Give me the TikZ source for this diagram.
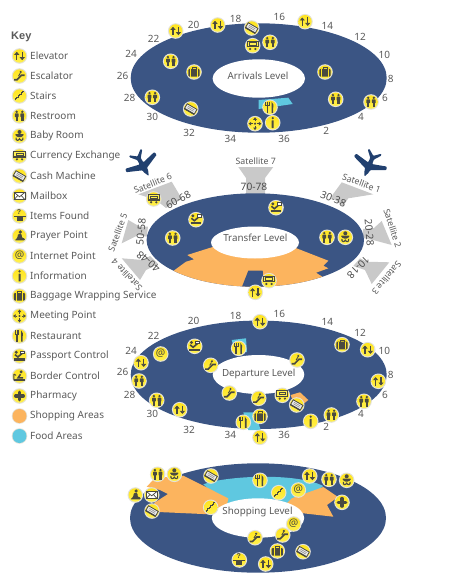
\documentclass[tikz,border=0pt]{standalone}
\usepackage{fontspec}
\setmainfont{Noto Sans}
\newfontfamily\keyfont{Liberation Sans}
\usetikzlibrary{arrows.meta,shapes.geometric}
\definecolor{ringblue}{HTML}{3B5584}
\definecolor{planeblue}{HTML}{21406F}
\definecolor{wedgegray}{HTML}{C9C9C9}
\definecolor{labelgray}{HTML}{5A5A5A}
\definecolor{shopcolor}{HTML}{FCB45E}
\definecolor{foodcolor}{HTML}{5FC8E0}
\definecolor{coinring}{HTML}{E4E2D8}
\definecolor{coinface}{HTML}{FFE41E}
\definecolor{coinglare}{HTML}{FFF04E}
\definecolor{coinink}{HTML}{4A4A40}

\begin{document}
\begin{tikzpicture}[
  x=1pt, y=-1pt,
  font=\fontsize{10}{11}\selectfont,
  keylabel/.style = {anchor=west, text=labelgray, inner sep=0pt},
  gatenum/.style  = {text=labelgray, inner sep=0pt},
  satname/.style  = {text=labelgray, inner sep=0pt, font=\fontsize{8.8}{10}\selectfont},
  satgates/.style = {text=labelgray!85!black, inner sep=0pt, font=\fontsize{10.2}{11}\selectfont},
  hub/.style      = {ellipse, fill=white, inner sep=0pt},
  levelname/.style= {text=labelgray, inner sep=0pt, font=\fontsize{9.8}{11}\selectfont},
  wedge/.style    = {fill=wedgegray},
  ink/.style      = {fill=coinink, draw=none},
  inkline/.style  = {draw=coinink, line width=1.1pt},
  liftarrow/.style= {inkline, line width=1.3pt, -{Triangle[length=3pt,width=5pt]}},
  coin/.pic = {
    \fill[coinring] (0,0) circle (7.8);
    \shade[top color=coinface, bottom color=coinglare] (0,0) circle (6.7);
  },
  elevator/.pic = {
    \pic {coin};
    \draw[liftarrow] (-2.7,4.2) -- (-2.7,-4.2);
    \draw[liftarrow] (2.7,-4.2) -- (2.7,4.2);
  },
  escalator/.pic = {
    \pic {coin};
    \draw[inkline, line width=1.7pt] (-5.5,3.8) -- (-2.5,3.8) -- (2,-0.8) -- (5.2,-0.8);
    \fill[ink] (1.2,-4) circle (1.2);
    \draw[inkline, line width=0.9pt] (0.8,-2.8) -- (-1,0.2);
  },
  stairs/.pic = {
    \pic {coin};
    \draw[inkline, line width=1pt] (-4.5,4.5) -- (-4.5,3) -- (-3,3) -- (-3,1.5) -- (-1.5,1.5) -- (-1.5,0)
      -- (0,0) -- (0,-1.5) -- (1.5,-1.5) -- (1.5,-3) -- (3,-3) -- (3,-4.5) -- (4.5,-4.5);
  },
  restroom/.pic = {
    \pic {coin};
    \foreach \sx in {-2.8,2.8} {
      \fill[ink] (\sx,-4.2) circle (1.3);
      \fill[ink, rounded corners=0.6] (\sx-1.9,-2.6) rectangle (\sx+1.9,1.2);
      \fill[ink] (\sx-1.2,1) rectangle (\sx+1.2,5.2);
    }
  },
  baby/.pic = {
    \pic {coin};
    \fill[ink] (0,-4) circle (2);
    \fill[ink, rounded corners=1] (-4.8,-1.8) -- (4.8,-1.8) -- (2.2,1.2) -- (-2.2,1.2) -- cycle;
    \draw[inkline] (-3.4,1.6) .. controls (-4,4.8) and (-1,5.2) .. (0,2.8)
      .. controls (1,5.2) and (4,4.8) .. (3.4,1.6);
  },
  currency/.pic = {
    \pic {coin};
    \draw[inkline, fill=coinglare] (-5.6,-4.6) rectangle (5.6,1);
    \draw[inkline, line width=0.6pt] (-3.4,-3) rectangle (3.4,-0.8);
    \fill[ink] (-2.6,3.3) circle (1.2);
    \fill[ink] (2.6,3.3) circle (1.2);
  },
  cash/.pic = {
    \pic {coin};
    \begin{scope}[rotate=-30]
      \draw[inkline, line width=0.8pt, fill=white!85!gray] (-5.6,-2.8) rectangle (5.6,2.8);
      \draw[inkline, line width=1.4pt] (-5.6,2.8) -- (5.6,2.8);
      \draw[gray, line width=0.5pt] (-3.6,-1) -- (3.6,-1) (-3.6,0.6) -- (3.6,0.6);
    \end{scope}
  },
  mailbox/.pic = {
    \pic {coin};
    \draw[inkline, line width=0.8pt, fill=white] (-5.6,-3.8) rectangle (5.6,3.8);
    \draw[inkline, line width=0.7pt] (-5.6,-3.8) -- (0,0.8) -- (5.6,-3.8)
      (-5.6,3.8) -- (-1.6,-0.6) (5.6,3.8) -- (1.6,-0.6);
  },
  found/.pic = {
    \pic {coin};
    \node[text=coinink, inner sep=0pt, font=\fontsize{7}{7}\keyfont\bfseries] (foundmark) at (-0.6,-3.6) {?};
    \fill[ink] (-6,-0.4) rectangle (6,1.3);
    \fill[ink] (-3,1.3) rectangle (3,5);
  },
  prayer/.pic = {
    \pic {coin};
    \fill[ink] (0.8,-4) circle (1.8);
    \fill[ink, rounded corners=1] (-1.4,-2.2) -- (2,-2.2) -- (2.6,2) -- (5.4,2.4) -- (5.4,4.4) -- (-5,4.4) -- (-2.2,2) -- cycle;
  },
  internet/.pic = {
    \pic {coin};
    \node[text=coinink, inner sep=0pt, font=\fontsize{10.5}{11}\selectfont] (atsign) at (0,-0.3) {@};
  },
  information/.pic = {
    \pic {coin};
    \fill[ink] (0,-4.6) circle (1.2);
    \fill[ink, rounded corners=0.4] (-1,-2.4) rectangle (1,5.4);
  },
  baggage/.pic = {
    \pic {coin};
    \draw[inkline, line width=0.8pt] (-2,-3) -- (-2,-4.8) -- (2,-4.8) -- (2,-3);
    \fill[ink, rounded corners=1] (-5.6,-3) rectangle (5.6,4.6);
    \draw[coinface, line width=0.7pt] (-3.3,-3) -- (-3.3,4.6) (3.3,-3) -- (3.3,4.6);
  },
  meeting/.pic = {
    \pic {coin};
    \fill[ink] (0,0) circle (1.2);
    \foreach \a in {0,90,180,270}
      \draw[inkline, line width=0.9pt, -{Triangle[length=2.6pt,width=3.6pt]}, rotate=\a] (2.2,0) -- (6.4,0);
  },
  restaurant/.pic = {
    \pic {coin};
    \draw[inkline, line width=0.7pt] (-4.4,-5.6) -- (-4.4,-1.6) -- (-0.8,-1.6) -- (-0.8,-5.6) (-2.6,-5.6) -- (-2.6,-1.6);
    \draw[inkline, line width=1.4pt] (-2.6,-1.6) -- (-2.6,5.6);
    \fill[ink] (1.6,-5.6) .. controls (3.8,-4.2) and (3.8,-1) .. (3.2,0.6) -- (3.2,5.6) -- (1.6,5.6) -- cycle;
  },
  passport/.pic = {
    \pic {coin};
    \fill[ink] (-3.2,-3.8) circle (1.6);
    \draw[inkline, line width=1.6pt] (-4.6,-1.4) -- (-1.6,1) -- (2.6,-2.6);
    \draw[inkline, line width=0.8pt, fill=white] (1,-5) rectangle (5,-2.6);
    \fill[ink] (-5.4,2.4) rectangle (5.4,4.6);
  },
  border/.pic = {
    \pic {coin};
    \fill[ink] (1.6,-4.2) circle (1.6);
    \draw[inkline, line width=1.6pt] (1,-1.8) -- (-1.4,1.8) -- (3.6,1.8);
    \draw[inkline, line width=0.9pt] (-5.6,-2) -- (-5.6,4.4) (-3.4,-0.6) -- (-5.6,-2);
    \fill[ink] (-5.6,3) rectangle (5.6,4.8);
  },
  pharmacy/.pic = {
    \pic {coin};
    \draw[inkline, line width=3.4pt, line cap=round] (-3.8,0) -- (3.8,0) (0,-3.8) -- (0,3.8);
  },
  plane/.pic = {
    \fill[planeblue, rounded corners=0.8] (11.5,0) -- (6,-2.4) -- (3.5,-2.6) -- (-3,-17.6) -- (-6.4,-16.6) -- (-3,-2.2) -- (-8,-2)
      -- (-14.4,-7.4) -- (-16,-6.4) -- (-11,0) -- (-16,6.4) -- (-14.4,7.4) -- (-8,2) -- (-3,2.2)
      -- (-6.4,16.6) -- (-3,17.6) -- (3.5,2.6) -- (6,2.4) -- cycle;
  },
]
\useasboundingbox (0,0) rectangle (476,583);

% ===== Key (left column) =====
\node[anchor=west, text=labelgray, inner sep=0pt, font=\fontsize{11}{12}\keyfont\bfseries] (keytitle) at (11,37) {Key};
\foreach \icon/\label [count=\i from 0] in {elevator/Elevator, escalator/Escalator, stairs/Stairs, restroom/Restroom,
    baby/Baby Room, currency/Currency Exchange, cash/Cash Machine, mailbox/Mailbox, found/Items Found,
    prayer/Prayer Point, internet/Internet Point, information/Information, baggage/Baggage Wrapping Service,
    meeting/Meeting Point, restaurant/Restaurant, passport/Passport Control, border/Border Control, pharmacy/Pharmacy} {
  \pic at (19.5,56+20*\i) {\icon};
  \node[keylabel] (key\i) at (30,56+20*\i) {\label};
}
\fill[coinring] (19.5,416) circle (7.8);
\fill[shopcolor] (19.5,416) circle (7);
\node[keylabel] (keyshop) at (30,416) {Shopping Areas};
\fill[coinring] (19.5,436) circle (7.8);
\fill[foodcolor] (19.5,436) circle (7);
\node[keylabel] (keyfood) at (30,436) {Food Areas};

% ===== Gate numbers: same ring of numbers on arrivals and departure =====
\foreach \n/\x/\y in {16/279.3/17.3, 14/327.3/26, 12/360/36.7, 10/384.3/55, 8/390.7/78.7, 6/385/98.3,
    4/361/117.3, 2/326.3/130.7, 36/284/139, 34/230.3/139, 32/189/133.3, 30/152.3/117.3,
    28/129.7/98.3, 26/122.7/76, 24/131/54.3, 22/153.7/39, 20/193.7/25, 18/235.7/19.3} {
  \node[gatenum] (arr\n) at (\x,\y) {\n};
  \node[gatenum] (dep\n) at (\x,\y+296.4) {\n};
}

% ===== Arrivals level =====
\fill[ringblue] (258.7,78) ellipse [x radius=128, y radius=54.7];
\node[hub, minimum width=92.4, minimum height=38.4] (arrivalshub) at (258.8,78.5) {};
\node[levelname] (arrivals) at (258,76) {Arrivals Level};
\fill[foodcolor] (258.7,100) -- (288.3,97.7) -- (292.7,104) -- (258.7,109) -- cycle;
\foreach \x/\y/\icon in {175.7/31/elevator, 217.7/25/elevator, 305/21.7/elevator, 252.7/45.7/currency,
    251.7/28/cash, 270/42.3/restroom, 170.7/61.3/restroom, 194/72/baggage, 325/72/baggage,
    335.7/99.3/restroom, 371/102/restroom, 152.3/97.3/restroom, 190.7/109/cash, 270/107.3/restaurant,
    255/123.7/meeting, 272.7/122.7/information}
  \pic at (\x,\y) {\icon};

% ===== Transfer level: satellites first, ring over them =====
\fill[wedge] (238.3,167) -- (273.3,167) -- (265,178) -- (265,195) -- (246,195) -- (246,178) -- cycle;
\fill[wedge] (138.3,194.3) -- (171.7,181.7) -- (182,199) -- (166,208) -- (156,200) -- cycle;
\fill[wedge] (341.7,182.3) -- (373.3,194.3) -- (348.3,198.3) -- (343,206) -- (331,197) -- cycle;
\fill[wedge] (381.7,221) -- (391.7,245) -- (373,240) -- (363,238) -- (363,229) -- (374,228) -- cycle;
\fill[wedge] (389.3,262.3) -- (371.7,284) -- (365,270) -- (353.3,266) -- (360,258.3) -- (366.7,261.7) -- cycle;
\fill[wedge] (121.7,258.3) -- (143,260) -- (150,256) -- (158,264) -- (146,270) -- (140,280) -- cycle;
\fill[wedge] (128.3,220) -- (121.7,243.3) -- (138.3,235) -- (146.7,236.7) -- (148,226.7) -- (140,226.7) -- cycle;
\fill[ringblue] (255.3,240) ellipse [x radius=108.7, y radius=46.7];
\begin{scope}
  \clip (255.3,240) ellipse [x radius=108.7, y radius=46.7];
  \fill[shopcolor] (255,240) -- (211.7,247.3) -- (187.3,255) -- (194,259.3) -- (186,261.7) -- (173.3,271) -- (173,295)
    -- (340,295) -- (322.3,276.7) -- (316,272.7) -- (328.3,268.3) -- (323.3,265.7) -- (328.3,260.7) -- (295,247.7) -- cycle;
  \fill[ringblue] (240.7,290) -- (248.3,270.7) -- (262.7,270.7) -- (264,290) -- cycle;
\end{scope}
\node[hub, minimum width=88, minimum height=32] (transferhub) at (255,242.5) {};
\node[levelname] (transfer) at (255.3,237.7) {Transfer Level};
\node[satname] (sat7) at (255.7,160.7) {Satellite 7};
\node[satgates] (gates7) at (254,187.3) {70-78};
\node[satname, rotate=22] (sat6) at (152.7,183.3) {Satellite 6};
\node[satgates, rotate=28] (gates6) at (178.3,200) {60-68};
\node[satname, rotate=-20] (sat1) at (361.7,183.3) {Satellite 1};
\node[satgates, rotate=-22] (gates1) at (333.3,199) {30-38};
\node[satname, rotate=-72] (sat2) at (392.7,228.3) {Satellite 2};
\node[satgates, rotate=-85] (gates2) at (369.3,232.7) {20-28};
\node[satname, rotate=230] (sat3) at (386.7,278.3) {Satellite 3};
\node[satgates, rotate=225] (gates3) at (358.3,267.3) {10-18};
\node[satname, rotate=133] (sat4) at (126.7,275) {Satellite 4};
\node[satgates, rotate=140] (gates4) at (148.3,261.7) {40-48};
\node[satname, rotate=70] (sat5) at (117.7,232.3) {Satellite 5};
\node[satgates, rotate=85] (gates5) at (141,231.7) {50-58};
\pic[rotate=-60] at (143,166) {plane};
\pic[rotate=-113] at (369,166) {plane};
\foreach \x/\y/\icon in {153.7/199/currency, 196/219.7/passport, 276/207.7/passport, 172.7/238/restroom,
    327/237.3/restroom, 345.3/237.3/baby, 269/280.7/currency, 255.3/292.3/elevator}
  \pic at (\x,\y) {\icon};

% ===== Departure level =====
\fill[ringblue] (258.7,374.8) ellipse [x radius=128, y radius=54.2];
\node[hub, minimum width=91.6, minimum height=39] (departurehub) at (258.5,374.5) {};
\node[levelname] (departure) at (258.7,374) {Departure Level};
\fill[foodcolor] (231.7,340) -- (246,338.3) -- (247,352) -- (235,352) -- cycle;
\fill[foodcolor] (243.3,412.3) -- (255,412.3) -- (260.7,430) -- (248.3,430) -- cycle;
\fill[shopcolor] (290.7,395) -- (300,392.3) -- (308.3,400) -- (296,410) -- cycle;
\foreach \x/\y/\icon in {260/321.7/elevator, 342/344.7/baggage, 367.7/349.7/elevator, 378.3/381.3/elevator,
    364/401.3/restroom, 331.3/415/restroom, 310.7/421.3/information, 282.3/395.3/currency, 296.7/405/cash,
    297/360/escalator, 210.7/365.3/escalator, 229.3/393/escalator, 258.7/398.3/escalator, 260/416.3/baggage,
    243.3/422.3/restaurant, 260/437.3/elevator, 238.7/348.3/restaurant, 194.7/346.3/passport,
    160.7/354/internet, 141/362.7/elevator, 139/381/restroom, 156.7/400.3/restroom, 179.7/409.7/elevator}
  \pic at (\x,\y) {\icon};

% ===== Shopping level =====
\fill[ringblue] (258,518) ellipse [x radius=128, y radius=54.7];
\fill[foodcolor] (203.3,484.3) .. controls (225,476) and (295,472) .. (323.3,486) -- (300,505) -- (225,505) -- cycle;
\fill[shopcolor] (146.7,486.7) -- (155,478) -- (183.3,475.7) -- (228.3,498.3) -- (225,515) -- (158.3,512) -- (154,503)
  -- (168,494) -- (160,490) -- cycle;
\fill[shopcolor] (291.7,498.3) -- (323.3,487) -- (338,497) -- (327,505) -- (333.3,516.7) -- (303.3,513.3) -- (285,505) -- cycle;
\node[hub, minimum width=92.4, minimum height=39.4] (shoppinghub) at (258,518) {};
\node[levelname] (shopping) at (257.5,511.7) {Shopping Level};
\foreach \x/\y/\icon in {157.7/474.3/restroom, 174.3/474.3/baby, 211/476/cash, 260/480.3/restaurant, 309.7/476/elevator,
    329/479.3/restroom, 346.7/480.3/baby, 342/502.3/pharmacy, 298.3/490/internet, 278.7/492.7/stairs,
    210.7/507.3/stairs, 135.3/495/prayer, 151.7/495/mailbox, 152/511/cash, 293.7/524/internet,
    282.7/535/escalator, 255/537.7/escalator, 277.3/551/baggage, 303/551.7/cash, 239.3/560/found, 265.7/564/elevator}
  \pic at (\x,\y) {\icon};

\end{tikzpicture}
\end{document}
